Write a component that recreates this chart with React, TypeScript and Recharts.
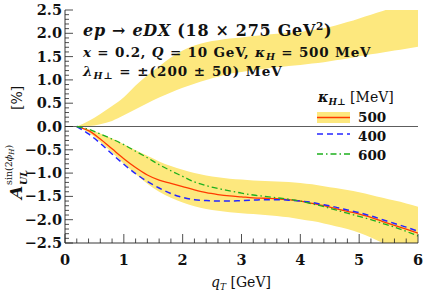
import React from 'react';
import { ComposedChart, Line, Area, XAxis, YAxis, ReferenceLine } from 'recharts';

// ---------- data ----------
const qT = [0.2, 0.4, 0.6, 0.8, 1.0, 1.2, 1.4, 1.6, 1.8, 2.0, 2.2, 2.4, 2.6, 2.8, 3.0, 3.2, 3.4, 3.6, 3.8, 4.0, 4.2, 4.4, 4.6, 4.8, 5.0, 5.2, 5.4, 5.6, 5.8, 6.0];
const kappa500 = [0, -0.09, -0.27, -0.48, -0.69, -0.88, -1.04, -1.15, -1.22, -1.29, -1.36, -1.42, -1.46, -1.49, -1.51, -1.53, -1.54, -1.55, -1.57, -1.60, -1.65, -1.70, -1.76, -1.82, -1.88, -1.95, -2.04, -2.12, -2.20, -2.29];
const kappa400 = [0, -0.16, -0.36, -0.59, -0.81, -1.01, -1.18, -1.32, -1.44, -1.52, -1.57, -1.59, -1.60, -1.60, -1.59, -1.58, -1.57, -1.57, -1.58, -1.60, -1.63, -1.68, -1.73, -1.79, -1.85, -1.92, -2.00, -2.08, -2.16, -2.25];
const kappa600 = [0, -0.06, -0.16, -0.27, -0.39, -0.53, -0.67, -0.82, -0.95, -1.07, -1.19, -1.27, -1.33, -1.38, -1.43, -1.47, -1.50, -1.53, -1.56, -1.60, -1.66, -1.72, -1.79, -1.86, -1.93, -2.00, -2.08, -2.16, -2.25, -2.35];
const bandNegLow = [0, -0.13, -0.33, -0.56, -0.80, -1.02, -1.23, -1.40, -1.53, -1.63, -1.71, -1.77, -1.81, -1.84, -1.86, -1.88, -1.90, -1.92, -1.95, -1.99, -2.03, -2.08, -2.14, -2.20, -2.28, -2.38, -2.50, -2.60, -2.70, -2.80];
const bandNegHigh = [0, -0.06, -0.15, -0.26, -0.38, -0.51, -0.63, -0.75, -0.85, -0.93, -1.00, -1.05, -1.09, -1.12, -1.14, -1.16, -1.17, -1.18, -1.19, -1.21, -1.24, -1.28, -1.32, -1.36, -1.41, -1.47, -1.53, -1.59, -1.65, -1.72];
const bandPosLow = [0, 0.01, 0.05, 0.12, 0.24, 0.37, 0.50, 0.62, 0.73, 0.83, 0.92, 1.00, 1.07, 1.13, 1.17, 1.21, 1.24, 1.27, 1.30, 1.32, 1.35, 1.38, 1.42, 1.46, 1.51, 1.55, 1.59, 1.63, 1.67, 1.71];
const bandPosHigh = [0, 0.12, 0.27, 0.44, 0.63, 0.88, 1.10, 1.29, 1.48, 1.63, 1.74, 1.81, 1.85, 1.89, 1.91, 1.94, 1.97, 1.99, 2.01, 2.03, 2.07, 2.11, 2.17, 2.24, 2.32, 2.40, 2.48, 2.56, 2.64, 2.72];

const xAllTicks = Array.from({ length: 31 }, (_, i) => Math.round(i * 20) / 100);
const yAllTicks = Array.from({ length: 51 }, (_, i) => Math.round((-2.5 + i * 0.1) * 100) / 100);

const legendNames = ['500', '400', '600'];

const data = qT.map((q, i) => ({
  q,
  k500: kappa500[i],
  k400: kappa400[i],
  k600: kappa600[i],
  neg: [bandNegLow[i], bandNegHigh[i]],
  pos: [bandPosLow[i], bandPosHigh[i]],
}));

// ---------- styles ----------
const FONT = '"DejaVu Serif", serif';
const AXIS = '#222';
const BAND = '#FDE87E';
const RED = '#FF3A00';
const BLUE = '#2626FF';
const GREEN = '#1DB01D';
const BLUE_DASH = '6 4';
const GREEN_DASH = '6 3 1.5 3';

const isXMajor = (v: number) => Math.abs(v - Math.round(v)) < 1e-6;
const isYMajor = (v: number) => Math.abs(v * 2 - Math.round(v * 2)) < 1e-6;
const fmtY = (v: number) => (v < 0 ? '\u2212' + Math.abs(v).toFixed(1) : v.toFixed(1));

const BottomTick = (p: any) => {
  const v = p.payload.value;
  const major = isXMajor(v);
  return (
    <g>
      <line x1={p.x} y1={p.y} x2={p.x} y2={p.y - (major ? 9 : 4.5)} stroke={AXIS} strokeWidth={0.8} />
      {major && (
        <text x={p.x} y={p.y + 22} textAnchor="middle" fontFamily={FONT} fontWeight="bold" fontSize={14.5} fill="#111">
          {String(Math.round(v))}
        </text>
      )}
    </g>
  );
};
const TopTick = (p: any) => {
  const major = isXMajor(p.payload.value);
  return <line x1={p.x} y1={p.y} x2={p.x} y2={p.y + (major ? 9 : 4.5)} stroke={AXIS} strokeWidth={0.8} />;
};
const LeftTick = (p: any) => {
  const v = p.payload.value;
  const major = isYMajor(v);
  return (
    <g>
      <line x1={p.x} y1={p.y} x2={p.x + (major ? 8 : 4)} y2={p.y} stroke={AXIS} strokeWidth={0.8} />
      {major && (
        <text x={p.x - 3} y={p.y + 5} textAnchor="end" fontFamily={FONT} fontWeight="bold" fontSize={14.5} fill="#111">
          {fmtY(v)}
        </text>
      )}
    </g>
  );
};
const RightTick = (p: any) => {
  const major = isYMajor(p.payload.value);
  return <line x1={p.x} y1={p.y} x2={p.x - (major ? 8 : 4)} y2={p.y} stroke={AXIS} strokeWidth={0.8} />;
};

const Overlay = () => (
  <svg width={423} height={302} style={{ position: 'absolute', left: 0, top: 0, pointerEvents: 'none' }}>
    {/* annotations */}
    <text x={83} y={36} fontFamily={FONT} fontWeight="bold" fontSize={16} letterSpacing={0.7} fill="#111">
      <tspan fontStyle="italic">ep</tspan>
      <tspan> → </tspan>
      <tspan fontStyle="italic">eDX</tspan>
      <tspan>{'  (18 × 275 GeV'}</tspan>
      <tspan dy={-6} fontSize={10.5}>2</tspan>
      <tspan dy={6}>)</tspan>
    </text>
    <text x={83} y={57} fontFamily={FONT} fontWeight="bold" fontSize={13.5} letterSpacing={0.8} fill="#111">
      <tspan fontStyle="italic">x</tspan>
      <tspan>{' = 0.2, '}</tspan>
      <tspan fontStyle="italic">Q</tspan>
      <tspan>{' = 10 GeV, '}</tspan>
      <tspan fontStyle="italic">κ</tspan>
      <tspan dy={3} fontSize={9.5} fontStyle="italic">H</tspan>
      <tspan dy={-3}>{' = 500 MeV'}</tspan>
    </text>
    <text x={83} y={76} fontFamily={FONT} fontWeight="bold" fontSize={13.5} letterSpacing={1.0} fill="#111">
      <tspan fontStyle="italic">λ</tspan>
      <tspan dy={3} fontSize={9.5} fontStyle="italic">H⊥</tspan>
      <tspan dy={-3}>{' = ±(200 ± 50) MeV'}</tspan>
    </text>

    {/* legend */}
    <text x={318} y={102} fontFamily={FONT} fontSize={14} fill="#111">
      <tspan fontWeight="bold" fontStyle="italic">κ</tspan>
      <tspan dy={3} fontSize={9} fontWeight="bold" fontStyle="italic">H⊥</tspan>
      <tspan dy={-3}>{' [MeV]'}</tspan>
    </text>
    <rect x={317} y={112} width={33} height={11} fill={BAND} />
    <line x1={317} y1={117.5} x2={350} y2={117.5} stroke={RED} strokeWidth={1.3} />
    <line x1={317} y1={134} x2={350} y2={134} stroke={BLUE} strokeWidth={1.5} strokeDasharray={BLUE_DASH} />
    <line x1={317} y1={154} x2={350} y2={154} stroke={GREEN} strokeWidth={1.3} strokeDasharray={GREEN_DASH} />
    {legendNames.map((n, i) => (
      <text key={n} x={358} y={122 + i * 19} fontFamily={FONT} fontWeight="bold" fontSize={13.5} fill="#111">
        {n}
      </text>
    ))}

    {/* x axis title */}
    <text x={241} y={287} textAnchor="middle" fontFamily={FONT} fontSize={14} fill="#111">
      <tspan fontStyle="italic">q</tspan>
      <tspan dy={3} fontSize={9} fontStyle="italic">T</tspan>
      <tspan dy={-3}>{' [GeV]'}</tspan>
    </text>

    {/* y axis title */}
    <g transform="translate(22,199) rotate(-90)">
      <text x={0} y={0} fontFamily={FONT} fontWeight="bold" fontStyle="italic" fontSize={17} fill="#111">A</text>
      <text x={14} y={5} fontFamily={FONT} fontWeight="bold" fontStyle="italic" fontSize={9.5} fill="#111">UL</text>
      <text x={14} y={-10} fontFamily={FONT} fontSize={9.5} fill="#111">
        <tspan>sin(2</tspan>
        <tspan fontStyle="italic">ϕ</tspan>
        <tspan fontStyle="italic" fontSize={7} dy={2}>H</tspan>
        <tspan dy={-2}>)</tspan>
      </text>
      <text x={89} y={0} fontFamily={FONT} fontSize={14} fill="#111">[%]</text>
    </g>
  </svg>
);

export default function App() {
  return (
    <div style={{ position: 'absolute', left: 0, top: 0, width: 423, height: 302, background: '#fff' }}>
      <ComposedChart width={423} height={302} data={data} margin={{ top: 10, right: 5, bottom: 0, left: 0 }}>
        <XAxis xAxisId="b" dataKey="q" type="number" domain={[0, 6]} ticks={xAllTicks} interval={0} allowDataOverflow
          tickLine={false} tickSize={0} tickMargin={0} height={59} axisLine={{ stroke: AXIS, strokeWidth: 0.9 }}
          tick={(p: any) => <BottomTick {...p} />} />
        <XAxis xAxisId="t" orientation="top" dataKey="q" type="number" domain={[0, 6]} ticks={xAllTicks} interval={0} allowDataOverflow
          tickLine={false} tickSize={0} tickMargin={0} height={0} axisLine={{ stroke: AXIS, strokeWidth: 0.9 }}
          tick={(p: any) => <TopTick {...p} />} />
        <YAxis yAxisId="l" type="number" domain={[-2.5, 2.5]} ticks={yAllTicks} interval={0} allowDataOverflow width={65}
          tickLine={false} tickSize={0} tickMargin={0} axisLine={{ stroke: AXIS, strokeWidth: 0.9 }}
          tick={(p: any) => <LeftTick {...p} />} />
        <YAxis yAxisId="r" orientation="right" type="number" domain={[-2.5, 2.5]} ticks={yAllTicks} interval={0} allowDataOverflow width={0}
          tickLine={false} tickSize={0} tickMargin={0} axisLine={{ stroke: AXIS, strokeWidth: 0.9 }}
          tick={(p: any) => <RightTick {...p} />} />
        <Area xAxisId="b" yAxisId="l" dataKey="pos" type="monotone" stroke="none" fill={BAND} fillOpacity={1} isAnimationActive={false} />
        <Area xAxisId="b" yAxisId="l" dataKey="neg" type="monotone" stroke="none" fill={BAND} fillOpacity={1} isAnimationActive={false} />
        <ReferenceLine xAxisId="b" yAxisId="l" y={0} stroke="#333" strokeWidth={0.8} />
        <Line xAxisId="b" yAxisId="l" dataKey="k500" type="monotone" stroke={RED} strokeWidth={1.3} dot={false} isAnimationActive={false} />
        <Line xAxisId="b" yAxisId="l" dataKey="k400" type="monotone" stroke={BLUE} strokeWidth={1.5} strokeDasharray={BLUE_DASH} dot={false} isAnimationActive={false} />
        <Line xAxisId="b" yAxisId="l" dataKey="k600" type="monotone" stroke={GREEN} strokeWidth={1.3} strokeDasharray={GREEN_DASH} dot={false} isAnimationActive={false} />
      </ComposedChart>
      <Overlay />
    </div>
  );
}
